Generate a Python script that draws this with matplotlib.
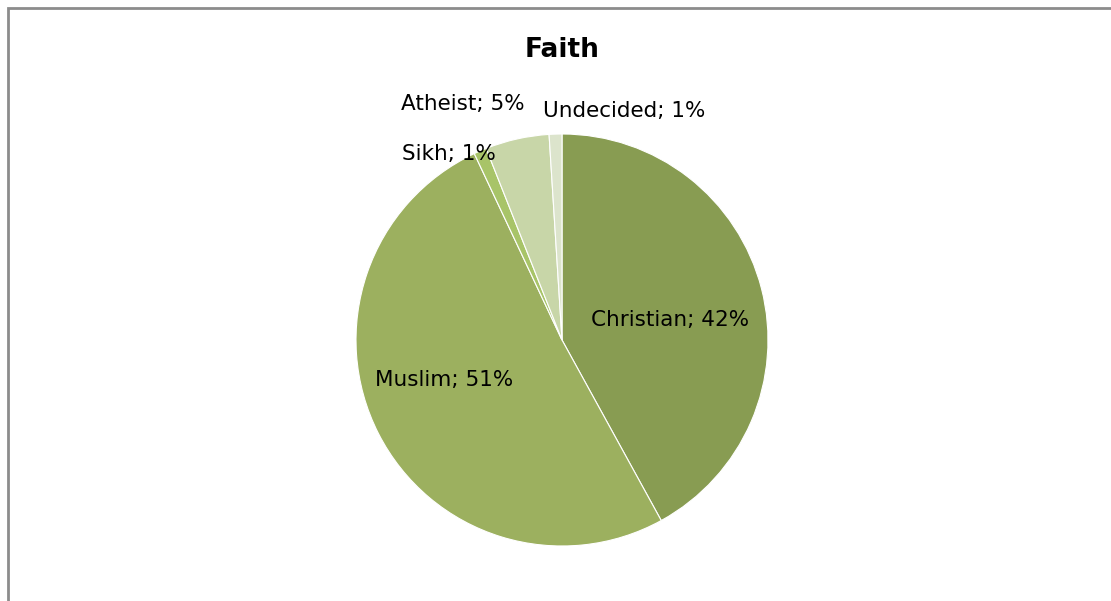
import matplotlib
matplotlib.use('Agg')
import matplotlib.pyplot as plt
from matplotlib.patches import Rectangle

# 数据
faiths = ['Christian', 'Muslim', 'Sikh', 'Atheist', 'Undecided']
shares = [42, 51, 1, 5, 1]
colors = ['#889C52', '#9CB05F', '#A8C468', '#C8D6A8', '#DCE4CC']
# label centres, in units of the pie radius
label_pos = [(0.524, 0.097), (-0.570, -0.194), (-0.549, 0.903),
             (-0.481, 1.146), (0.301, 1.112)]

fig = plt.figure(figsize=(11.11, 6.01), dpi=100)
W, H = 1111, 601

# grey frame (right and bottom edges fall outside the picture)
fig.patches.append(Rectangle((8 / W, -0.1), 1.2, (H - 8) / H + 0.1,
                             transform=fig.transFigure, fill=False,
                             edgecolor='#8c8c8c', linewidth=2))

cx, cy, r = 562, 340, 206
ax = fig.add_axes([(cx - r) / W, (H - cy - r) / H, 2 * r / W, 2 * r / H])
ax.pie(shares, colors=colors, startangle=90, counterclock=False,
       radius=1, wedgeprops=dict(edgecolor='white', linewidth=0.8))
ax.set_xlim(-1, 1)
ax.set_ylim(-1, 1)
ax.set_aspect('equal')
ax.axis('off')

for name, val, (x, y) in zip(faiths, shares, label_pos):
    ax.text(x, y, f'{name}; {val}%', ha='center', va='center',
            fontsize=15.5, color='black', clip_on=False)

fig.text(cx / W, 1 - 50 / H, 'Faith', ha='center', va='center',
         fontsize=19, fontweight='bold')

fig.savefig('out.png', dpi=100)
